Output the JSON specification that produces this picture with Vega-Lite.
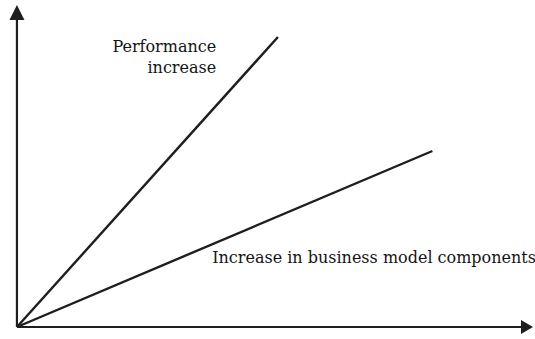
{
  "$schema": "https://vega.github.io/schema/vega-lite/v6.json",
  "width": 535,
  "height": 339,
  "padding": 0,
  "autosize": {"type": "fit", "contains": "padding"},
  "config": {"view": {"stroke": null}},
  "datasets": {
    "axes": [
      {"name": "y-axis", "x": 0, "y": 0, "xe": 0, "ye": 30.7},
      {"name": "x-axis", "x": 0, "y": 0, "xe": 50.6, "ye": 0}
    ],
    "lines": [
      {"series": "Performance increase", "x": 0, "y": 0},
      {"series": "Performance increase", "x": 26.2, "y": 29.0},
      {"series": "Increase in business model components", "x": 0, "y": 0},
      {"series": "Increase in business model components", "x": 41.7, "y": 17.6}
    ],
    "arrows": [
      {"dir": "up", "x": 0, "y": 31.45},
      {"dir": "right", "x": 51.2, "y": 0}
    ],
    "labels": [
      {"text": "Performance", "x": 20.0, "y": 27.5, "align": "right"},
      {"text": "increase", "x": 20.0, "y": 25.4, "align": "right"},
      {"text": "Increase in business model components", "x": 19.6, "y": 6.4, "align": "left"}
    ]
  },
  "layer": [
    {
      "data": {"name": "axes"},
      "mark": {"type": "rule", "color": "#1e1e1e", "strokeWidth": 2.2},
      "encoding": {
        "x": {"field": "x", "type": "quantitative", "scale": {"domain": [-1.7, 51.8]}, "axis": null},
        "y": {"field": "y", "type": "quantitative", "scale": {"domain": [-1.2, 32.7]}, "axis": null},
        "x2": {"field": "xe"},
        "y2": {"field": "ye"}
      }
    },
    {
      "data": {"name": "lines"},
      "mark": {"type": "line", "color": "#1e1e1e", "strokeWidth": 2.4},
      "encoding": {
        "x": {"field": "x", "type": "quantitative", "scale": {"domain": [-1.7, 51.8]}, "axis": null},
        "y": {"field": "y", "type": "quantitative", "scale": {"domain": [-1.2, 32.7]}, "axis": null},
        "detail": {"field": "series", "type": "nominal"}
      }
    },
    {
      "data": {"name": "arrows"},
      "transform": [{"filter": "datum.dir === 'up'"}],
      "mark": {"type": "point", "shape": "M0,-1L-1,1L1,1Z", "filled": true, "color": "#1e1e1e", "size": 225, "opacity": 1},
      "encoding": {
        "x": {"field": "x", "type": "quantitative", "scale": {"domain": [-1.7, 51.8]}, "axis": null},
        "y": {"field": "y", "type": "quantitative", "scale": {"domain": [-1.2, 32.7]}, "axis": null}
      }
    },
    {
      "data": {"name": "arrows"},
      "transform": [{"filter": "datum.dir === 'right'"}],
      "mark": {"type": "point", "shape": "M1,0L-1,-1.15L-1,1.15Z", "filled": true, "color": "#1e1e1e", "size": 144, "opacity": 1},
      "encoding": {
        "x": {"field": "x", "type": "quantitative", "scale": {"domain": [-1.7, 51.8]}, "axis": null},
        "y": {"field": "y", "type": "quantitative", "scale": {"domain": [-1.2, 32.7]}, "axis": null}
      }
    },
    {
      "data": {"name": "labels"},
      "transform": [{"filter": "datum.align === 'right'"}],
      "mark": {"type": "text", "align": "right", "baseline": "alphabetic", "font": "DejaVu Serif", "fontSize": 16, "color": "#141414"},
      "encoding": {
        "x": {"field": "x", "type": "quantitative", "scale": {"domain": [-1.7, 51.8]}, "axis": null},
        "y": {"field": "y", "type": "quantitative", "scale": {"domain": [-1.2, 32.7]}, "axis": null},
        "text": {"field": "text"}
      }
    },
    {
      "data": {"name": "labels"},
      "transform": [{"filter": "datum.align === 'left'"}],
      "mark": {"type": "text", "align": "left", "baseline": "alphabetic", "font": "DejaVu Serif", "fontSize": 16, "color": "#141414"},
      "encoding": {
        "x": {"field": "x", "type": "quantitative", "scale": {"domain": [-1.7, 51.8]}, "axis": null},
        "y": {"field": "y", "type": "quantitative", "scale": {"domain": [-1.2, 32.7]}, "axis": null},
        "text": {"field": "text"}
      }
    }
  ]
}
